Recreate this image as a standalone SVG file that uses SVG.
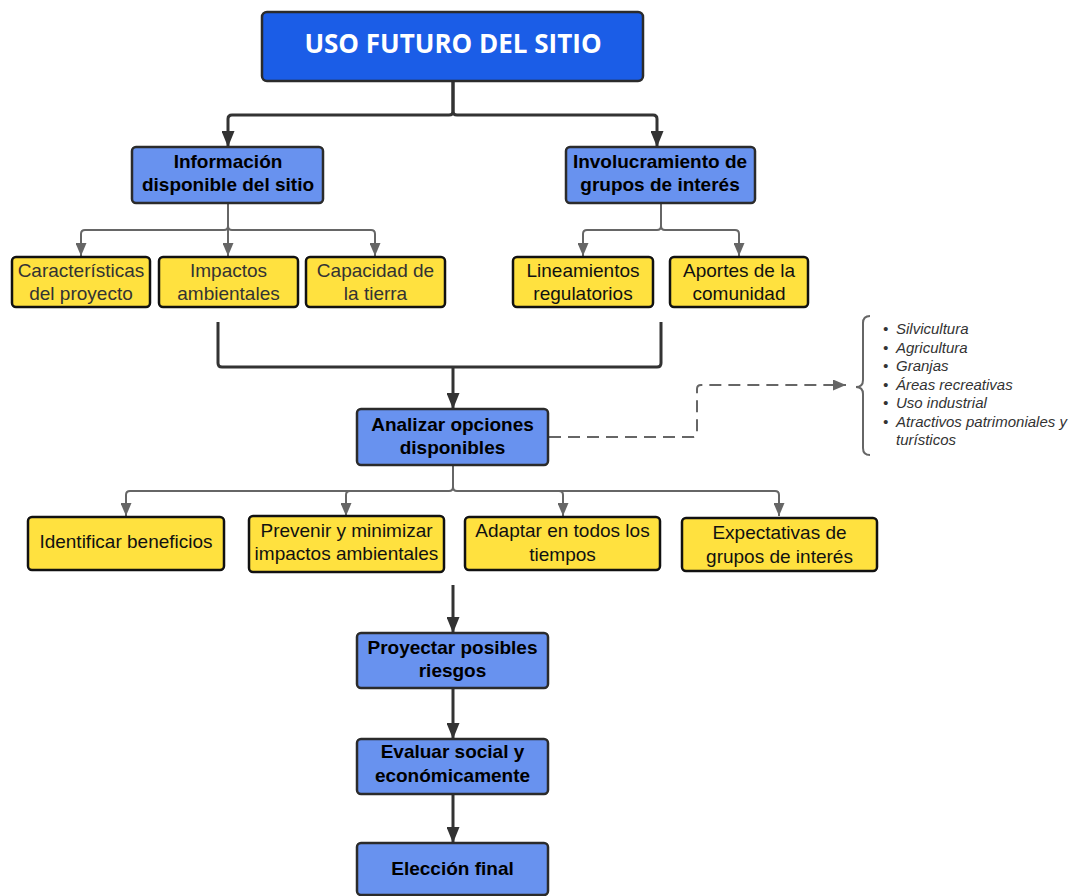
<svg xmlns="http://www.w3.org/2000/svg" width="1073" height="896" viewBox="0 0 1073 896">
  <style>
    .title { fill: #1b5de7; stroke: #2b2b2b; stroke-width: 2.5; }
    .blue { fill: #6892ef; stroke: #2b2b2b; stroke-width: 2.5; }
    .yellow { fill: #ffe13f; stroke: #111; stroke-width: 2.5; }
    .t-title { font-family: "Open Sans", "Liberation Sans", sans-serif; font-weight: 700; font-size: 26px; fill: #fff; text-anchor: middle; }
    .t-bold { font-family: "Liberation Sans", Arial, sans-serif; font-weight: 700; font-size: 19px; fill: #000; text-anchor: middle; }
    .t-reg { font-family: "Liberation Sans", Arial, sans-serif; font-size: 19px; fill: #111; text-anchor: middle; }
    .t-grey { fill: #333; }
    .t-list { font-family: "Liberation Sans", Arial, sans-serif; font-style: italic; font-size: 15px; fill: #333; }
    .dark { fill: none; stroke: #333; stroke-width: 3; }
    .grey { fill: none; stroke: #666; stroke-width: 2; }
    .dash { fill: none; stroke: #666; stroke-width: 2; stroke-dasharray: 12 7; }
  </style>
  <defs>
    <marker id="arrowDark" markerUnits="userSpaceOnUse" markerWidth="17" markerHeight="13" refX="16" refY="6.5" orient="auto">
      <path d="M0,0 L16,6.5 L0,13 z" fill="#333"/>
    </marker>
    <marker id="arrowGrey" markerUnits="userSpaceOnUse" markerWidth="14" markerHeight="11" refX="13" refY="5.5" orient="auto">
      <path d="M0,0 L13,5.5 L0,11 z" fill="#666"/>
    </marker>
  </defs>

  <g id="connectors">
    <!-- root split -->
    <path class="dark" d="M453,81 V111 q0,4 -4,4 H232 q-4,0 -4,4 V147" marker-end="url(#arrowDark)"/>
    <path class="dark" d="M453,81 V111 q0,4 4,4 H653 q4,0 4,4 V147" marker-end="url(#arrowDark)"/>
    <!-- information branches -->
    <path class="grey" d="M228,203 V226 q0,4 -4,4 H85 q-4,0 -4,4 V256" marker-end="url(#arrowGrey)"/>
    <path class="grey" d="M228,203 V256" marker-end="url(#arrowGrey)"/>
    <path class="grey" d="M228,226 q0,4 4,4 H371 q4,0 4,4 V256" marker-end="url(#arrowGrey)"/>
    <!-- stakeholder branches -->
    <path class="grey" d="M661,203 V226 q0,4 -4,4 H587 q-4,0 -4,4 V256" marker-end="url(#arrowGrey)"/>
    <path class="grey" d="M661,226 q0,4 4,4 H735 q4,0 4,4 V256" marker-end="url(#arrowGrey)"/>
    <!-- merge into analysis -->
    <path class="dark" d="M218,322 V363 q0,4 4,4 H657 q4,0 4,-4 V322"/>
    <path class="dark" d="M453,367 V409" marker-end="url(#arrowDark)"/>
    <!-- options list -->
    <path class="dash" d="M549,437 H693 q4,0 4,-4 V389 q0,-4 4,-4 H846" marker-end="url(#arrowGrey)"/>
    <!-- analysis branches -->
    <path class="grey" d="M453,466 V487 q0,4 -4,4 H130 q-4,0 -4,4 V516" marker-end="url(#arrowGrey)"/>
    <path class="grey" d="M350,491 q-4,0 -4,4 V516" marker-end="url(#arrowGrey)"/>
    <path class="grey" d="M453,487 q0,4 4,4 H775 q4,0 4,4 V516" marker-end="url(#arrowGrey)"/>
    <path class="grey" d="M559,491 q4,0 4,4 V516" marker-end="url(#arrowGrey)"/>
    <!-- final sequence -->
    <path class="dark" d="M453,585 V633" marker-end="url(#arrowDark)"/>
    <path class="dark" d="M453,688 V739" marker-end="url(#arrowDark)"/>
    <path class="dark" d="M453,794 V843" marker-end="url(#arrowDark)"/>
  </g>

  <g id="uso-futuro">
    <rect class="title" x="262" y="12" width="381" height="69" rx="5"/>
    <text class="t-title" x="453" y="53">USO FUTURO DEL SITIO</text>
  </g>

  <g id="informacion">
    <rect class="blue" x="132" y="147" width="191" height="56" rx="4"/>
    <text class="t-bold" x="228" y="168">Información</text>
    <text class="t-bold" x="228" y="191">disponible del sitio</text>
  </g>

  <g id="involucramiento">
    <rect class="blue" x="566" y="147" width="189" height="56" rx="4"/>
    <text class="t-bold" x="660" y="168">Involucramiento de</text>
    <text class="t-bold" x="660" y="191">grupos de interés</text>
  </g>

  <g id="caracteristicas">
    <rect class="yellow" x="12" y="257" width="138" height="50" rx="4"/>
    <text class="t-reg t-grey" x="81" y="277">Características</text>
    <text class="t-reg t-grey" x="81" y="300">del proyecto</text>
  </g>

  <g id="impactos">
    <rect class="yellow" x="159" y="257" width="139" height="50" rx="4"/>
    <text class="t-reg t-grey" x="228.5" y="277">Impactos</text>
    <text class="t-reg t-grey" x="228.5" y="300">ambientales</text>
  </g>

  <g id="capacidad">
    <rect class="yellow" x="306" y="257" width="139" height="50" rx="4"/>
    <text class="t-reg t-grey" x="375.5" y="277">Capacidad de</text>
    <text class="t-reg t-grey" x="375.5" y="300">la tierra</text>
  </g>

  <g id="lineamientos">
    <rect class="yellow" x="513" y="257" width="140" height="50" rx="4"/>
    <text class="t-reg" x="583" y="277">Lineamientos</text>
    <text class="t-reg" x="583" y="300">regulatorios</text>
  </g>

  <g id="aportes">
    <rect class="yellow" x="670" y="257" width="138" height="50" rx="4"/>
    <text class="t-reg" x="739" y="277">Aportes de la</text>
    <text class="t-reg" x="739" y="300">comunidad</text>
  </g>

  <g id="analizar">
    <rect class="blue" x="357" y="409" width="191" height="56" rx="4"/>
    <text class="t-bold" x="452.5" y="431">Analizar opciones</text>
    <text class="t-bold" x="452.5" y="454">disponibles</text>
  </g>

  <g id="opciones">
    <path class="grey" d="M870,316 q-7,0 -7,7 V380 q0,7 -7,7 q7,0 7,7 V448 q0,7 7,7"/>
    <text class="t-list" x="883" y="334">•</text>
    <text class="t-list" x="896" y="334">Silvicultura</text>
    <text class="t-list" x="883" y="353">•</text>
    <text class="t-list" x="896" y="353">Agricultura</text>
    <text class="t-list" x="883" y="371">•</text>
    <text class="t-list" x="896" y="371">Granjas</text>
    <text class="t-list" x="883" y="390">•</text>
    <text class="t-list" x="896" y="390">Áreas recreativas</text>
    <text class="t-list" x="883" y="408">•</text>
    <text class="t-list" x="896" y="408">Uso industrial</text>
    <text class="t-list" x="883" y="427">•</text>
    <text class="t-list" x="896" y="427">Atractivos patrimoniales y</text>
    <text class="t-list" x="896" y="445">turísticos</text>
  </g>

  <g id="identificar">
    <rect class="yellow" x="28" y="517" width="196" height="53" rx="4"/>
    <text class="t-reg" x="126" y="548">Identificar beneficios</text>
  </g>

  <g id="prevenir">
    <rect class="yellow" x="249" y="516" width="195" height="56" rx="4"/>
    <text class="t-reg" x="346.5" y="537">Prevenir y minimizar</text>
    <text class="t-reg" x="346.5" y="560">impactos ambientales</text>
  </g>

  <g id="adaptar">
    <rect class="yellow" x="465" y="517" width="195" height="53" rx="4"/>
    <text class="t-reg" x="562.5" y="537">Adaptar en todos los</text>
    <text class="t-reg" x="562.5" y="561">tiempos</text>
  </g>

  <g id="expectativas">
    <rect class="yellow" x="682" y="518" width="195" height="53" rx="4"/>
    <text class="t-reg" x="779.5" y="539">Expectativas de</text>
    <text class="t-reg" x="779.5" y="563">grupos de interés</text>
  </g>

  <g id="proyectar">
    <rect class="blue" x="357" y="633" width="191" height="55" rx="4"/>
    <text class="t-bold" x="452.5" y="654">Proyectar posibles</text>
    <text class="t-bold" x="452.5" y="677">riesgos</text>
  </g>

  <g id="evaluar">
    <rect class="blue" x="357" y="739" width="191" height="55" rx="4"/>
    <text class="t-bold" x="452.5" y="758">Evaluar social y</text>
    <text class="t-bold" x="452.5" y="782">económicamente</text>
  </g>

  <g id="eleccion">
    <rect class="blue" x="357" y="843" width="191" height="52" rx="4"/>
    <text class="t-bold" x="452.5" y="875">Elección final</text>
  </g>
</svg>
